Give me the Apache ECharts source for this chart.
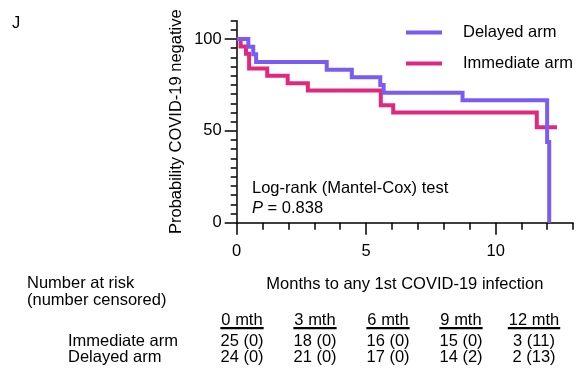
<!DOCTYPE html>
<html>
<head>
<meta charset="utf-8">
<script src="https://cdn.jsdelivr.net/npm/echarts@6/dist/echarts.min.js"></script>
<style>
  html, body { margin: 0; padding: 0; background: #fff; }
  #kmChart { width: 580px; height: 368px; }
</style>
</head>
<body>
<div id="kmChart"></div>
<script>
  // Kaplan-Meier steps: [month, % still COVID-19 negative]
  const delayedArm = [[0, 100], [0.45, 95.8], [0.64, 91.7], [0.75, 87.5], [3.48, 83.3], [4.45, 79.2],
    [5.55, 75], [5.68, 70.8], [8.73, 66.7], [12.0, 44], [12.08, 0]];
  const immediateArm = [[0, 100], [0.15, 96], [0.36, 92], [0.48, 84], [1.18, 80], [1.97, 76],
    [2.75, 72], [5.57, 64], [6.05, 60], [11.6, 52], [12.38, 52]];

  const xTickLabels = [0, 5, 10];
  const yTickLabels = [0, 50, 100];

  // number at risk table
  const riskTimes = ['0 mth', '3 mth', '6 mth', '9 mth', '12 mth'];
  const immediateRisk = ['25 (0)', '18 (0)', '16 (0)', '15 (0)', '3 (11)'];
  const delayedRisk = ['24 (0)', '21 (0)', '17 (0)', '14 (2)', '2 (13)'];

  const FONT = '"Liberation Sans", Arial, sans-serif';
  const FS = 16.5;
  const purple = '#7B5CF2';
  const pink = '#E0287F';

  const myChart = echarts.init(document.getElementById('kmChart'), null, { renderer: 'canvas' });

  // measure text for header underlines
  const ctx = document.createElement('canvas').getContext('2d');
  ctx.font = FS + 'px ' + FONT;

  function tableGraphics() {
    const els = [];
    const colX = (i) => 242 + i * 73;
    riskTimes.forEach((t, i) => {
      const w = ctx.measureText(t).width;
      els.push({ type: 'text', x: colX(i), y: 320, style: { text: t, font: FS + 'px ' + FONT, fill: '#000', align: 'center', verticalAlign: 'middle' } });
      els.push({ type: 'rect', shape: { x: colX(i) - w / 2 - 1, y: 327, width: w + 2, height: 2.2 }, style: { fill: '#000' } });
      els.push({ type: 'text', x: colX(i), y: 341, style: { text: immediateRisk[i], font: FS + 'px ' + FONT, fill: '#000', align: 'center', verticalAlign: 'middle' } });
      els.push({ type: 'text', x: colX(i), y: 357, style: { text: delayedRisk[i], font: FS + 'px ' + FONT, fill: '#000', align: 'center', verticalAlign: 'middle' } });
    });
    return els;
  }

  function txt(text, x, y) {
    return { type: 'text', x: x, y: y, style: { text: text, font: FS + 'px ' + FONT, fill: '#000', verticalAlign: 'middle' } };
  }

  const axisLineBlack = { show: true, lineStyle: { color: '#000', width: 1.5 } };

  const options = {
    animation: false,
    textStyle: { fontFamily: FONT },
    grid: [
      // data grid: 0..13 months, 0..110 %
      { left: 236.7, right: 7, top: 20.7, bottom: 145.3 },
      // major tick grid: 0..10 months, 0..100 %
      { left: 236.7, width: 259, top: 39.0, bottom: 145.3 }
    ],
    xAxis: [
      {
        gridIndex: 0, type: 'value', min: 0, max: 13, interval: 1,
        axisLine: axisLineBlack,
        axisTick: { length: 7, lineStyle: { color: '#000', width: 1.5 } },
        axisLabel: { show: false },
        splitLine: { show: false },
        name: 'Months to any 1st COVID-19 infection',
        nameLocation: 'middle', nameGap: 53,
        nameTextStyle: { fontSize: FS, color: '#000', fontFamily: FONT }
      },
      {
        gridIndex: 1, type: 'value', min: 0, max: 10, interval: 5,
        axisLine: { show: false },
        axisTick: { length: 12, lineStyle: { color: '#000', width: 1.5 } },
        axisLabel: {
          margin: 20, fontSize: FS, color: '#000', fontFamily: FONT,
          formatter: (v) => (xTickLabels.includes(v) ? String(v) : '')
        },
        splitLine: { show: false }
      }
    ],
    yAxis: [
      {
        gridIndex: 0, type: 'value', min: 0, max: 110, interval: 5,
        axisLine: axisLineBlack,
        axisTick: { length: 6, lineStyle: { color: '#000', width: 1.5 } },
        axisLabel: { show: false },
        splitLine: { show: false },
        name: 'Probability COVID-19 negative',
        nameLocation: 'middle', nameGap: 52, nameRotate: 90,
        nameTextStyle: { fontSize: FS, color: '#000', fontFamily: FONT }
      },
      {
        gridIndex: 1, type: 'value', min: 0, max: 100, interval: 50,
        axisLine: { show: false },
        axisTick: { length: 12, lineStyle: { color: '#000', width: 1.5 } },
        axisLabel: {
          margin: 15, fontSize: FS, color: '#000', fontFamily: FONT,
          formatter: (v) => (yTickLabels.includes(v) ? String(v) : '')
        },
        splitLine: { show: false }
      }
    ],
    legend: {
      orient: 'vertical',
      left: 406, top: 24,
      padding: 0,
      itemGap: 14,
      itemWidth: 36, itemHeight: 4,
      icon: 'rect',
      data: ['Delayed arm', 'Immediate arm'],
      textStyle: { fontSize: FS, color: '#000', fontFamily: FONT, padding: [0, 0, 0, 16] },
      selectedMode: false
    },
    series: [
      {
        name: 'Immediate arm', type: 'line', step: 'end',
        xAxisIndex: 0, yAxisIndex: 0,
        showSymbol: false, symbol: 'none',
        lineStyle: { color: pink, width: 4, join: 'miter' },
        itemStyle: { color: pink },
        data: immediateArm
      },
      {
        name: 'Delayed arm', type: 'line', step: 'end',
        xAxisIndex: 0, yAxisIndex: 0,
        showSymbol: false, symbol: 'none',
        lineStyle: { color: purple, width: 4, join: 'miter' },
        itemStyle: { color: purple },
        data: delayedArm
      }
    ],
    graphic: [
      txt('J', 12, 23),
      txt('Log-rank (Mantel-Cox) test', 252, 188),
      {
        type: 'text', x: 252, y: 208,
        style: {
          text: '{i|P} = 0.838',
          font: FS + 'px ' + FONT, fill: '#000', verticalAlign: 'middle',
          rich: { i: { fontStyle: 'italic', fontSize: FS, fontFamily: FONT, fill: '#000' } }
        }
      },
      txt('Number at risk', 27, 283),
      txt('(number censored)', 27, 300),
      txt('Immediate arm', 68, 341),
      txt('Delayed arm', 68, 357),
      ...tableGraphics()
    ]
  };

  myChart.setOption(options);
</script>
</body>
</html>
